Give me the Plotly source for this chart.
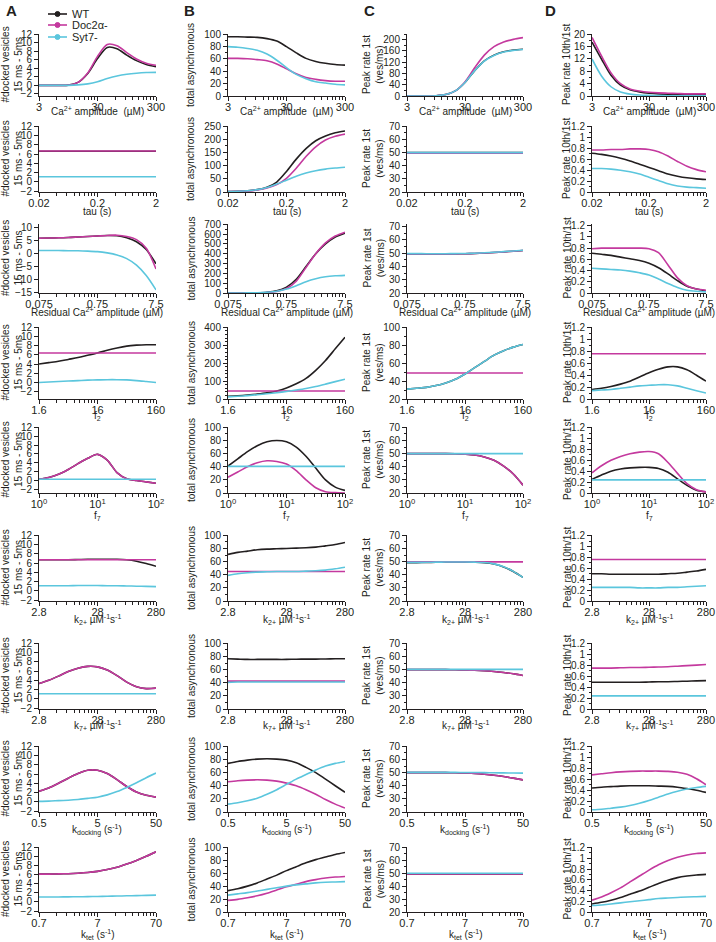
import math
import plotly.graph_objects as go

FONT = "Liberation Sans, Arial, Helvetica, sans-serif"
W, H = 716, 942

series_names = ["WT", "Doc2α-", "Syt7-"]
colors = ["#231f20", "#c4399e", "#5bc6dd"]

# ---------------- x samples (one list per parameter row) ----------------
x_ca = [3, 4.40, 6.46, 9.49, 13.92, 20.44, 30, 44.0, 64.6, 94.9, 139.2, 204.4, 300]
x_tau = [0.02, 0.02936, 0.04309, 0.06325, 0.09283, 0.1363, 0.2, 0.2936, 0.4309, 0.6325, 0.9283, 1.363, 2]
x_res = [0.075, 0.1101, 0.1616, 0.2372, 0.3481, 0.5110, 0.75, 1.101, 1.616, 2.372, 3.481, 5.110, 7.5]
x_f2 = [1.6, 2.348, 3.447, 5.060, 7.427, 10.90, 16, 23.48, 34.47, 50.60, 74.27, 109.0, 160]
x_f7 = [1, 1.468, 2.154, 3.162, 4.642, 6.813, 10, 14.68, 21.54, 31.62, 46.42, 68.13, 100]
x_k2 = [2.8, 4.110, 6.032, 8.854, 13.00, 19.08, 28, 41.10, 60.32, 88.54, 130.0, 190.8, 280]
x_k7 = [2.8, 4.110, 6.032, 8.854, 13.00, 19.08, 28, 41.10, 60.32, 88.54, 130.0, 190.8, 280]
x_kd = [0.5, 0.7339, 1.077, 1.581, 2.321, 3.406, 5, 7.339, 10.77, 15.81, 23.21, 34.06, 50]
x_kt = [0.7, 1.027, 1.508, 2.214, 3.249, 4.769, 7, 10.27, 15.08, 22.14, 32.49, 47.69, 70]

# ---------------- Column A: #docked vesicles 15 ms - 5 ms ----------------
A1_wt = [0, 0, 0, 0.05, 0.7, 2.8, 6.3, 8.9, 8.6, 7.1, 5.8, 4.9, 4.4]
A1_doc = [0, 0, 0, 0.05, 0.7, 2.9, 6.8, 9.6, 9.3, 7.7, 6.2, 5.2, 4.7]
A1_syt = [0, 0, 0, 0, 0.1, 0.35, 0.85, 1.6, 2.2, 2.6, 2.85, 3.0, 3.05]
A2_wt = [6.6] * 13
A2_doc = [6.65] * 13
A2_syt = [1.1] * 13
A3_wt = [5.8, 5.9, 6.0, 6.1, 6.3, 6.5, 6.7, 6.9, 6.8, 6.0, 4.5, 1.5, -4.0]
A3_doc = [5.8, 5.9, 6.0, 6.1, 6.3, 6.5, 6.7, 6.9, 7.0, 6.5, 5.3, 2.0, -6.0]
A3_syt = [1.1, 1.1, 1.1, 1.05, 1.0, 0.9, 0.7, 0.2, -0.6, -2.0, -4.5, -8.5, -14.0]
A4_wt = [4.0, 4.3, 4.6, 5.0, 5.4, 5.9, 6.4, 7.0, 7.5, 7.9, 8.1, 8.2, 8.2]
A4_doc = [6.4] * 13
A4_syt = [0.0, 0.1, 0.2, 0.3, 0.4, 0.5, 0.55, 0.6, 0.6, 0.55, 0.4, 0.2, 0.0]
A5_wt = [0.3, 0.7, 1.4, 2.5, 3.8, 5.0, 5.9, 4.6, 1.8, 0.4, 0.0, -0.3, -0.6]
A5_doc = [0.3, 0.7, 1.4, 2.5, 3.8, 5.0, 5.9, 4.6, 1.8, 0.4, 0.0, -0.3, -0.6]
A5_syt = [0.3] * 13
A6_wt = [6.7, 6.7, 6.7, 6.7, 6.75, 6.8, 6.8, 6.8, 6.8, 6.7, 6.4, 5.9, 5.3]
A6_doc = [6.7] * 13
A6_syt = [1.1, 1.1, 1.1, 1.1, 1.15, 1.15, 1.15, 1.1, 1.1, 1.05, 1.0, 0.95, 0.9]
A7_wt = [3.3, 4.0, 4.9, 5.9, 6.6, 7.0, 6.9, 6.2, 5.0, 3.6, 2.6, 2.2, 2.3]
A7_doc = [3.3, 4.0, 4.9, 5.9, 6.6, 7.0, 6.9, 6.2, 5.0, 3.6, 2.6, 2.2, 2.3]
A7_syt = [1.1] * 13
A8_wt = [2.3, 3.0, 4.0, 5.1, 6.1, 6.8, 6.8, 6.1, 4.8, 3.3, 2.1, 1.4, 1.0]
A8_doc = [2.3, 3.0, 4.0, 5.1, 6.1, 6.8, 6.8, 6.1, 4.8, 3.3, 2.1, 1.4, 1.0]
A8_syt = [0.1, 0.15, 0.25, 0.35, 0.5, 0.75, 1.0, 1.5, 2.2, 3.1, 4.1, 5.2, 6.2]
A9_wt = [6.1, 6.1, 6.15, 6.2, 6.3, 6.45, 6.7, 7.1, 7.6, 8.3, 9.1, 10.0, 11.0]
A9_doc = [6.1, 6.1, 6.15, 6.2, 6.3, 6.45, 6.7, 7.1, 7.6, 8.3, 9.1, 10.0, 11.0]
A9_syt = [1.1, 1.1, 1.1, 1.12, 1.15, 1.17, 1.2, 1.25, 1.3, 1.35, 1.4, 1.45, 1.5]

# ---------------- Column B: total asynchronous ----------------
B1_wt = [96, 96, 95.5, 95, 93, 89, 80, 70, 61, 56, 53, 51, 50]
B1_doc = [61, 61, 60.5, 59, 57, 52, 44, 36, 30, 27, 25, 24, 24]
B1_syt = [80, 79, 77, 74, 68, 58, 46, 35, 28, 23, 21, 19, 18]
B2_wt = [2, 3, 5, 9, 18, 38, 78, 125, 165, 195, 213, 225, 232]
B2_doc = [2, 3, 4, 8, 15, 28, 52, 90, 135, 172, 198, 212, 220]
B2_syt = [2, 3, 5, 9, 17, 30, 45, 60, 72, 81, 87, 91, 94]
B3_wt = [0, 0, 1, 3, 8, 22, 60, 140, 270, 400, 500, 570, 610]
B3_doc = [0, 0, 1, 2, 5, 15, 45, 120, 260, 400, 510, 580, 620]
B3_syt = [0, 0, 1, 3, 8, 18, 40, 75, 115, 145, 165, 175, 180]
B4_wt = [15, 18, 22, 27, 34, 45, 62, 85, 115, 160, 215, 280, 345]
B4_doc = [45] * 13
B4_syt = [12, 15, 19, 24, 29, 35, 42, 50, 59, 70, 83, 97, 110]
B5_wt = [41, 52, 63, 72, 78, 80, 78, 70, 56, 38, 20, 9, 4]
B5_doc = [24, 32, 40, 46, 49, 48, 44, 34, 20, 8, 2, 0.5, 0]
B5_syt = [40.5] * 13
B6_wt = [71, 74, 76, 78, 79, 79.5, 80, 80.5, 81, 82, 84, 86, 89]
B6_doc = [45] * 13
B6_syt = [39, 41.5, 43, 44, 44.5, 45, 45, 45, 45.5, 46, 47, 49, 51.5]
B7_wt = [76.5, 76, 75.5, 75.5, 75.5, 75.5, 75.5, 75.8, 76, 76, 76.2, 76.5, 76.5]
B7_doc = [42.5] * 13
B7_syt = [40.5, 41, 41, 41, 41, 41, 41, 41, 41, 41, 41, 41, 41]
B8_wt = [74, 77, 79, 80.5, 81, 80.5, 79, 75, 68, 60, 50, 40, 30]
B8_doc = [46, 47.5, 48.5, 49, 48.5, 47, 44, 40, 34, 27, 19, 12, 6]
B8_syt = [12, 14, 17, 21, 27, 34, 42, 50, 57, 64, 70, 74, 77]
B9_wt = [33, 36, 40, 45, 51, 57, 64, 70, 76, 81, 85, 89, 92]
B9_doc = [18, 19.5, 22, 25, 29, 34, 39, 43, 47, 50, 52.5, 54, 55]
B9_syt = [26, 28, 30, 32.5, 35, 37.5, 40, 42, 43.5, 45, 46, 46.5, 47]

# ---------------- Column C: Peak rate 1st (ves/ms) ----------------
C1_wt = [0, 0, 0, 1, 5, 18, 48, 90, 125, 145, 157, 163, 166]
C1_doc = [0, 0, 0, 1, 5, 18, 50, 100, 145, 175, 192, 201, 207]
C1_syt = [0, 0, 0, 1, 5, 18, 48, 90, 124, 144, 156, 162, 165]
C2_wt = [50] * 13
C2_doc = [49.5] * 13
C2_syt = [50] * 13
C3_wt = [49.5, 49.5, 49.4, 49.4, 49.4, 49.5, 49.6, 49.8, 50.1, 50.5, 51.0, 51.5, 52.0]
C3_doc = [49.5, 49.5, 49.4, 49.4, 49.4, 49.5, 49.6, 49.8, 50.1, 50.5, 51.0, 51.5, 52.0]
C3_syt = [49.7, 49.7, 49.6, 49.6, 49.6, 49.7, 49.8, 50.0, 50.3, 50.7, 51.2, 51.7, 52.2]
C4_wt = [31, 32, 33, 35, 38, 42, 48, 55, 62, 69, 74, 78, 81]
C4_doc = [49] * 13
C4_syt = [31, 32, 33, 35, 38, 42, 48, 55, 62, 69, 74, 78, 81]
C5_wt = [50, 50, 50, 50, 50, 49.9, 49.6, 49, 47.5, 45, 40.5, 34.5, 26]
C5_doc = [50, 50, 50, 50, 50, 49.9, 49.6, 49, 47.5, 45, 40.5, 34.5, 26]
C5_syt = [50] * 13
C6_wt = [49.2, 49.2, 49.4, 49.5, 49.6, 49.6, 49.6, 49.5, 49.2, 48.2, 46, 42.5, 38]
C6_doc = [49.8] * 13
C6_syt = [49.4, 49.4, 49.5, 49.6, 49.7, 49.7, 49.7, 49.6, 49.3, 48.3, 46.1, 42.6, 38]
C7_wt = [50, 50, 50, 50, 50, 49.9, 49.8, 49.6, 49.2, 48.6, 47.8, 46.8, 45.5]
C7_doc = [50, 50, 50, 50, 50, 49.9, 49.8, 49.6, 49.2, 48.6, 47.8, 46.8, 45.5]
C7_syt = [50.2] * 13
C8_wt = [50, 50, 50, 50, 50, 49.9, 49.7, 49.4, 48.8, 48, 47, 45.8, 44.5]
C8_doc = [50, 50, 50, 50, 50, 49.9, 49.7, 49.4, 48.8, 48, 47, 45.8, 44.5]
C8_syt = [50.2, 50.2, 50.2, 50.2, 50.2, 50.2, 50.1, 50.1, 50, 49.9, 49.8, 49.7, 49.6]
C9_wt = [49.5] * 13
C9_doc = [49.5] * 13
C9_syt = [50] * 13

# ---------------- Column D: Peak rate 10th/1st ----------------
D1_wt = [17.5, 12, 6.7, 3.5, 2.0, 1.3, 0.9, 0.7, 0.6, 0.55, 0.5, 0.5, 0.5]
D1_doc = [19, 13, 7.5, 4, 2.3, 1.6, 1.2, 1.0, 0.9, 0.8, 0.7, 0.7, 0.7]
D1_syt = [12, 6.5, 3.0, 1.3, 0.6, 0.3, 0.2, 0.15, 0.1, 0.1, 0.1, 0.1, 0.1]
D2_wt = [0.71, 0.69, 0.66, 0.62, 0.57, 0.51, 0.45, 0.39, 0.33, 0.29, 0.26, 0.24, 0.23]
D2_doc = [0.77, 0.77, 0.78, 0.78, 0.79, 0.79, 0.78, 0.74, 0.66, 0.56, 0.47, 0.41, 0.37]
D2_syt = [0.43, 0.43, 0.42, 0.40, 0.37, 0.33, 0.27, 0.21, 0.15, 0.11, 0.09, 0.08, 0.07]
D3_wt = [0.71, 0.69, 0.67, 0.64, 0.61, 0.58, 0.53, 0.45, 0.34, 0.22, 0.12, 0.07, 0.04]
D3_doc = [0.79, 0.8, 0.8, 0.8, 0.8, 0.8, 0.79, 0.72, 0.5, 0.27, 0.13, 0.07, 0.05]
D3_syt = [0.44, 0.43, 0.42, 0.41, 0.39, 0.36, 0.32, 0.25, 0.17, 0.1, 0.05, 0.03, 0.02]
D4_wt = [0.16, 0.18, 0.21, 0.25, 0.30, 0.37, 0.44, 0.5, 0.54, 0.54, 0.49, 0.4, 0.3]
D4_doc = [0.76] * 13
D4_syt = [0.14, 0.15, 0.16, 0.18, 0.2, 0.22, 0.23, 0.24, 0.24, 0.22, 0.18, 0.14, 0.1]
D5_wt = [0.25, 0.33, 0.40, 0.44, 0.46, 0.47, 0.47, 0.45, 0.38, 0.26, 0.14, 0.05, 0.02]
D5_doc = [0.37, 0.5, 0.6, 0.67, 0.72, 0.75, 0.76, 0.72, 0.56, 0.36, 0.17, 0.06, 0.02]
D5_syt = [0.24] * 13
D6_wt = [0.5, 0.5, 0.49, 0.49, 0.49, 0.49, 0.49, 0.49, 0.5, 0.51, 0.53, 0.55, 0.58]
D6_doc = [0.76] * 13
D6_syt = [0.25, 0.25, 0.25, 0.25, 0.25, 0.24, 0.24, 0.24, 0.25, 0.25, 0.26, 0.27, 0.28]
D7_wt = [0.49, 0.49, 0.49, 0.49, 0.49, 0.49, 0.495, 0.5, 0.5, 0.505, 0.51, 0.515, 0.52]
D7_doc = [0.75, 0.75, 0.75, 0.755, 0.76, 0.76, 0.765, 0.77, 0.775, 0.785, 0.795, 0.805, 0.815]
D7_syt = [0.24] * 13
D8_wt = [0.44, 0.455, 0.465, 0.475, 0.48, 0.48, 0.48, 0.475, 0.47, 0.455, 0.43, 0.4, 0.36]
D8_doc = [0.68, 0.70, 0.72, 0.735, 0.745, 0.75, 0.75, 0.75, 0.745, 0.73, 0.69, 0.61, 0.5]
D8_syt = [0.04, 0.05, 0.07, 0.09, 0.12, 0.16, 0.21, 0.27, 0.33, 0.38, 0.42, 0.45, 0.47]
D9_wt = [0.15, 0.18, 0.22, 0.27, 0.33, 0.39, 0.46, 0.53, 0.59, 0.64, 0.67, 0.69, 0.7]
D9_doc = [0.22, 0.28, 0.36, 0.45, 0.56, 0.67, 0.78, 0.88, 0.96, 1.02, 1.06, 1.09, 1.1]
D9_syt = [0.12, 0.13, 0.15, 0.17, 0.19, 0.21, 0.23, 0.25, 0.26, 0.27, 0.28, 0.285, 0.29]

# ---------------- tick labels & titles ----------------
row_x = [x_ca, x_tau, x_res, x_f2, x_f7, x_k2, x_k7, x_kd, x_kt]
row_xticks = [[3, 30, 300], [0.02, 0.2, 2], [0.075, 0.75, 7.5], [1.6, 16, 160], [1, 10, 100],
              [2.8, 28, 280], [2.8, 28, 280], [0.5, 5, 50], [0.7, 7, 70]]
row_xticktext = [["3", "30", "300"], ["0.02", "0.2", "2"], ["0.075", "0.75", "7.5"],
                 ["1.6", "16", "160"], ["10<sup>0</sup>", "10<sup>1</sup>", "10<sup>2</sup>"],
                 ["2.8", "28", "280"], ["2.8", "28", "280"], ["0.5", "5", "50"], ["0.7", "7", "70"]]
row_xtitle = ["Ca<sup>2+</sup> amplitude  (µM)", "tau (s)", "Residual Ca<sup>2+</sup> amplitude (µM)",
              "f<sub>2</sub>", "f<sub>7</sub>", "k<sub>2+</sub> µM<sup>-1</sup>s<sup>-1</sup>",
              "k<sub>7+</sub> µM<sup>-1</sup>s<sup>-1</sup>", "k<sub>docking</sub> (s<sup>-1</sup>)",
              "k<sub>tet</sub> (s<sup>-1</sup>)"]
col_ytitle = ["#docked vesicles<br>15 ms - 5ms", "total asynchronous",
              "Peak rate 1st<br>(ves/ms)", "Peak rate 10th/1st"]
panel_letters = ["A", "B", "C", "D"]

data = {
    "A": [(A1_wt, A1_doc, A1_syt), (A2_wt, A2_doc, A2_syt), (A3_wt, A3_doc, A3_syt),
          (A4_wt, A4_doc, A4_syt), (A5_wt, A5_doc, A5_syt), (A6_wt, A6_doc, A6_syt),
          (A7_wt, A7_doc, A7_syt), (A8_wt, A8_doc, A8_syt), (A9_wt, A9_doc, A9_syt)],
    "B": [(B1_wt, B1_doc, B1_syt), (B2_wt, B2_doc, B2_syt), (B3_wt, B3_doc, B3_syt),
          (B4_wt, B4_doc, B4_syt), (B5_wt, B5_doc, B5_syt), (B6_wt, B6_doc, B6_syt),
          (B7_wt, B7_doc, B7_syt), (B8_wt, B8_doc, B8_syt), (B9_wt, B9_doc, B9_syt)],
    "C": [(C1_wt, C1_doc, C1_syt), (C2_wt, C2_doc, C2_syt), (C3_wt, C3_doc, C3_syt),
          (C4_wt, C4_doc, C4_syt), (C5_wt, C5_doc, C5_syt), (C6_wt, C6_doc, C6_syt),
          (C7_wt, C7_doc, C7_syt), (C8_wt, C8_doc, C8_syt), (C9_wt, C9_doc, C9_syt)],
    "D": [(D1_wt, D1_doc, D1_syt), (D2_wt, D2_doc, D2_syt), (D3_wt, D3_doc, D3_syt),
          (D4_wt, D4_doc, D4_syt), (D5_wt, D5_doc, D5_syt), (D6_wt, D6_doc, D6_syt),
          (D7_wt, D7_doc, D7_syt), (D8_wt, D8_doc, D8_syt), (D9_wt, D9_doc, D9_syt)],
}

# ---------------- layout geometry (pixels) ----------------
rows_px = [(34, 96), (126, 192), (224, 293), (327, 399), (427, 493),
           (535, 601), (643, 709), (746, 812), (847, 912)]
cols_px = [(39, 156), (228, 345), (407, 523), (592, 706)]
xtitle_y = [111, 211, 312, 416, 516, 619, 725, 830, 934]
ytitle_x = [11.5, 191, 373, 567]
AX = "#231f20"


def yaxis_spec(col, row):
    # (range, dtick, minor dtick)
    if col == 0:
        if row == 2:
            return [-15.2, 11.3], 5, None
        if row == 3:
            return [-3.6, 12.05], 2, None
        if row == 4:
            return [-2.8, 12.05], 2, None
        if row == 0:
            return [-2.5, 12.05], 2, None
        return [-2.2, 12.05], 2, None
    if col == 1:
        return ([[0, 100.5], [0, 251], [0, 703], [0, 402], [0, 100.5], [0, 100.5], [0, 100.5],
                 [0, 100.5], [0, 100.5]][row],
                [20, 50, 100, 100, 20, 20, 20, 20, 20][row], [10, 25, 50, 20, 10, 10, 10, 10, 10][row])
    if col == 2:
        if row == 0:
            return [0, 220], 40, 20
        if row == 3:
            return [20, 100.5], 20, 10
        if row == 2:
            return [20, 72], 10, 5
        return [20, 70.3], 10, 5
    if row == 0:
        return [0, 20.1], 4, 2
    if row == 2:
        return [0, 1.23], 0.2, 0.1
    return [0, 1.21], 0.2, 0.1


def minor_vals(lo):
    vals = []
    for d in (1, 10):
        for k in range(2, 10):
            vals.append(lo * d * k)
    return vals


fig = go.Figure()
layout = dict(width=W, height=H, autosize=False,
              margin=dict(l=0, r=0, t=0, b=0, pad=0, autoexpand=False),
              paper_bgcolor="white", plot_bgcolor="white",
              font=dict(family=FONT, size=10, color=AX),
              showlegend=False)
annotations = []
shapes = []

for col in range(4):
    key = panel_letters[col]
    for row in range(9):
        i = row * 4 + col + 1
        xs = "" if i == 1 else str(i)
        x0, x1 = cols_px[col]
        t, b = rows_px[row]
        xv = row_x[row]
        for yv, name, c in zip(data[key][row], series_names, colors):
            fig.add_trace(go.Scatter(
                x=xv, y=yv, mode="lines", name=name, showlegend=False,
                line=dict(color=c, width=1.6, shape="spline", smoothing=0.8),
                xaxis="x" + xs, yaxis="y" + xs, hoverinfo="skip"))
        lo = row_xticks[row][0]
        hi = row_xticks[row][-1]
        layout["xaxis" + xs] = dict(
            type="log", range=[math.log10(lo), math.log10(hi)],
            domain=[x0 / W, x1 / W], anchor="y" + xs, automargin=False,
            showline=True, linecolor=AX, linewidth=1, mirror=False,
            ticks="outside", ticklen=4, tickwidth=1, tickcolor=AX,
            tickmode="array", tickvals=row_xticks[row], ticktext=row_xticktext[row],
            ticklabelstandoff=-3,
            tickfont=dict(size=11), showgrid=False, zeroline=False, fixedrange=True,
            minor=dict(ticks="outside", ticklen=2.5, tickwidth=1, tickcolor=AX,
                       tickmode="array", tickvals=minor_vals(lo), showgrid=False))
        yr, dt, mdt = yaxis_spec(col, row)
        yax = dict(
            range=yr, domain=[1 - b / H, 1 - t / H], anchor="x" + xs, automargin=False,
            showline=True, linecolor=AX, linewidth=1, fixedrange=True,
            ticks="outside", ticklen=4, tickwidth=1, tickcolor=AX,
            dtick=dt, tick0=0, tickfont=dict(size=10), showgrid=False, zeroline=False)
        if mdt is not None:
            yax["minor"] = dict(ticks="outside", ticklen=2.5, tickwidth=1, tickcolor=AX,
                                dtick=mdt, tick0=0, showgrid=False)
        layout["yaxis" + xs] = yax
        # axis titles
        annotations.append(dict(text=row_xtitle[row], xref="paper", yref="paper",
                                x=(x0 + x1) / 2 / W, y=1 - xtitle_y[row] / H,
                                xanchor="center", yanchor="middle", showarrow=False,
                                font=dict(size=10)))
        annotations.append(dict(text=col_ytitle[col], xref="paper", yref="paper",
                                x=ytitle_x[col] / W, y=1 - (t + b) / 2 / H, textangle=-90,
                                xanchor="center", yanchor="middle", showarrow=False,
                                font=dict(size=10)))
    annotations.append(dict(text="<b>" + key + "</b>", xref="paper", yref="paper",
                            x=[4, 182, 362, 543][col] / W, y=1 - 11 / H,
                            xanchor="left", yanchor="middle", showarrow=False,
                            font=dict(size=15)))

# legend (drawn as line + circle + label, GraphPad style)
leg_y = [14, 25, 37]
for name, c, ly in zip(series_names, colors, leg_y):
    yy = 1 - ly / H
    shapes.append(dict(type="line", xref="paper", yref="paper", x0=48 / W, x1=67 / W,
                       y0=yy, y1=yy, line=dict(color=c, width=1.6)))
    shapes.append(dict(type="circle", xref="paper", yref="paper",
                       x0=55 / W, x1=60 / W, y0=yy - 2.5 / H, y1=yy + 2.5 / H,
                       line=dict(color=c, width=1), fillcolor=c))
    annotations.append(dict(text=name, xref="paper", yref="paper", x=70 / W, y=yy,
                            xanchor="left", yanchor="middle", showarrow=False,
                            font=dict(size=11)))

layout["annotations"] = annotations
layout["shapes"] = shapes
fig.update_layout(**layout)
fig.write_html("out.html", config={"displayModeBar": False, "staticPlot": True},
               post_script="document.body.style.margin='0px';")
